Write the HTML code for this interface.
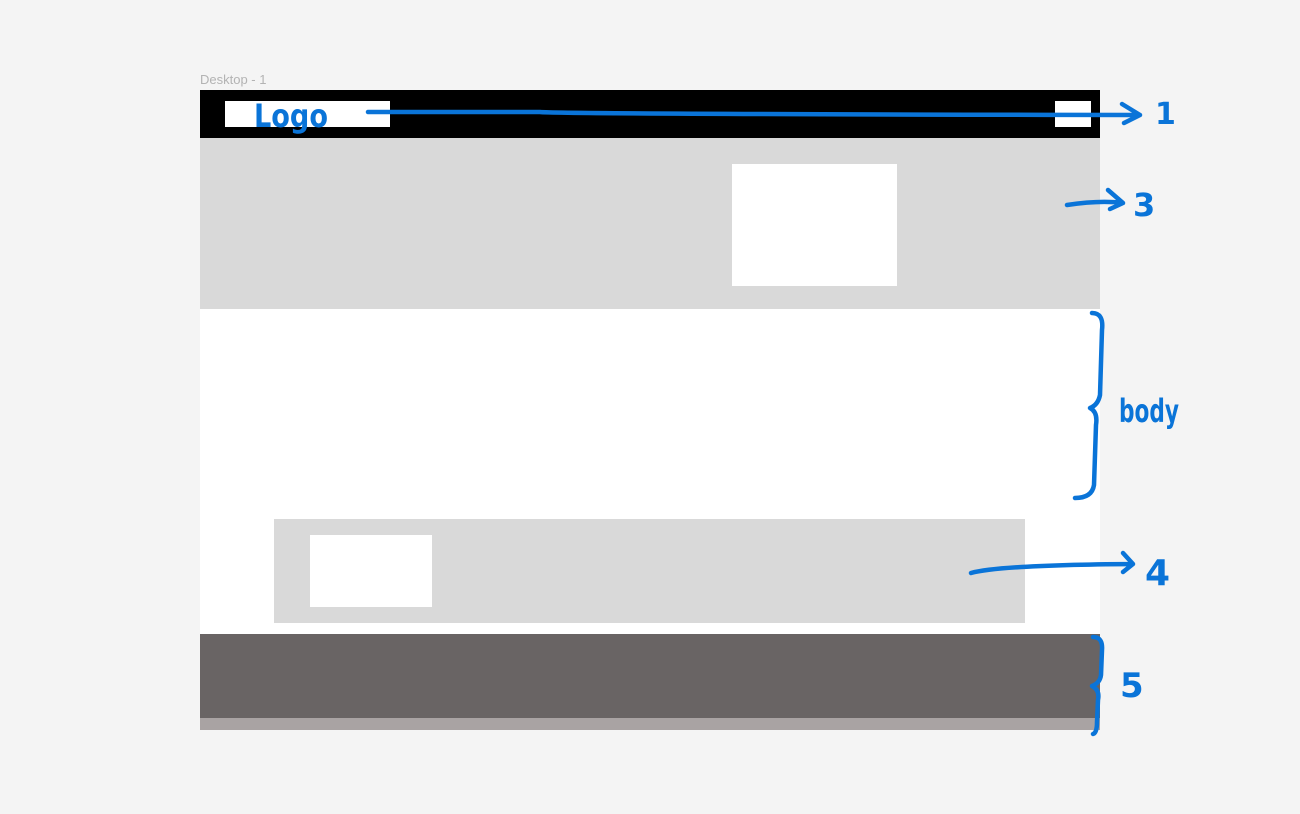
<!DOCTYPE html>
<html><head><meta charset="utf-8"><style>
html,body{margin:0;padding:0}
body{width:1300px;height:814px;background:#f4f4f4;position:relative;overflow:hidden;font-family:"Liberation Sans",sans-serif}
div{position:absolute}
</style></head><body>
<div style="left:200px;top:72px;font-size:13px;color:#b3b3b3">Desktop - 1</div>
<div style="left:200px;top:90px;width:900px;height:640px;background:#fff"></div>
<div style="left:200px;top:90px;width:900px;height:48px;background:#000"></div>
<div style="left:225px;top:101px;width:165px;height:26px;background:#fff"></div>
<div style="left:1055px;top:101px;width:36px;height:26px;background:#fff"></div>
<div style="left:200px;top:138px;width:900px;height:171px;background:#d9d9d9"></div>
<div style="left:732px;top:164px;width:165px;height:122px;background:#fff"></div>
<div style="left:274px;top:519px;width:751px;height:104px;background:#d9d9d9"></div>
<div style="left:310px;top:535px;width:122px;height:72px;background:#fff"></div>
<div style="left:200px;top:634px;width:900px;height:84px;background:#696464"></div>
<div style="left:200px;top:718px;width:900px;height:12px;background:#a9a3a3"></div>
<svg width="1300" height="814" style="position:absolute;left:0;top:0" fill="none" stroke="#0a74d8" stroke-width="4.5" stroke-linecap="round" stroke-linejoin="round">
<text x="254" y="127" textLength="74" lengthAdjust="spacingAndGlyphs" fill="#0a74d8" stroke="none" font-family="DejaVu Sans,sans-serif" font-size="32" font-weight="bold">Logo</text>
<path d="M368 112 L540 112 Q560 114 1140 115 M1122 104 L1140 115 L1124 123"/>
<text x="1155" y="124" fill="#0a74d8" stroke="none" font-family="DejaVu Sans,sans-serif" font-size="30" font-weight="bold">1</text>
<path d="M1067 205 Q1100 200 1123 203 M1108 190 L1123 203 L1110 209"/>
<text x="1133" y="216" fill="#0a74d8" stroke="none" font-family="DejaVu Sans,sans-serif" font-size="32" font-weight="bold">3</text>
<path d="M1092 313 Q1104 313 1102 330 L1100 395 Q1098 405 1090 408 Q1098 412 1096 425 L1094 485 Q1092 498 1075 498"/>
<text x="1119" y="422" textLength="60" lengthAdjust="spacingAndGlyphs" fill="#0a74d8" stroke="none" font-family="DejaVu Sans,sans-serif" font-size="32" font-weight="bold">body</text>
<path d="M971 573 Q1000 565 1133 564 M1123 553 L1133 564 L1123 572"/>
<text x="1145" y="585" fill="#0a74d8" stroke="none" font-family="DejaVu Sans,sans-serif" font-size="36" font-weight="bold">4</text>
<path d="M1093 637 Q1103 637 1102 650 L1101 675 Q1100 683 1092 686 Q1100 690 1098 700 L1097 722 Q1097 733 1093 734"/>
<text x="1120" y="697" fill="#0a74d8" stroke="none" font-family="DejaVu Sans,sans-serif" font-size="34" font-weight="bold">5</text>
</svg>
</body></html>
